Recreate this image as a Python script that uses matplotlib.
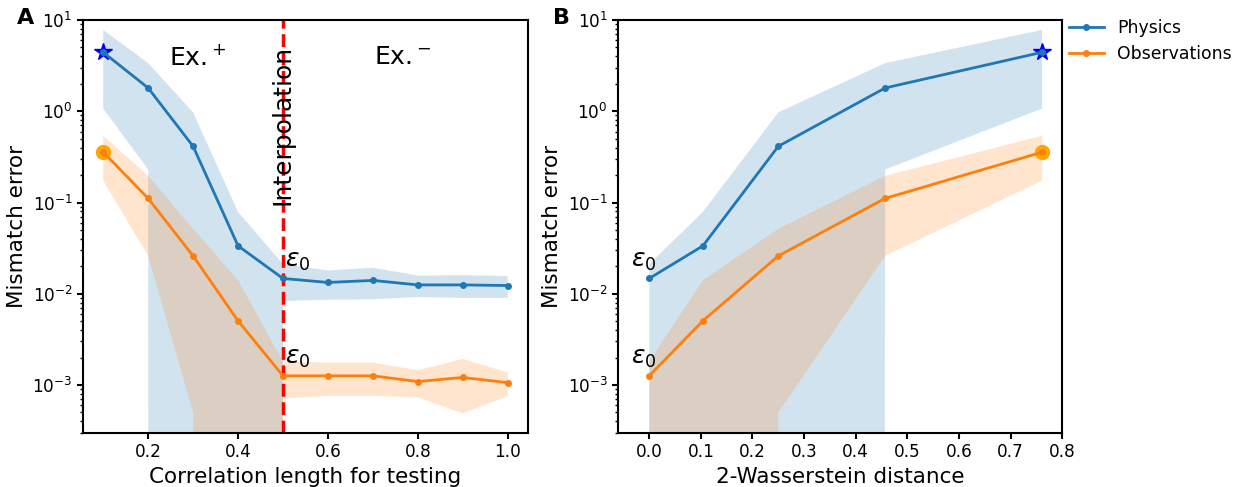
import numpy as np
import matplotlib
matplotlib.use('Agg')
import matplotlib.pyplot as plt

# correlation lengths used for testing (training length is 0.5)
corr_len = np.array([0.1, 0.2, 0.3, 0.4, 0.5, 0.6, 0.7, 0.8, 0.9, 1.0])

# mismatch error, mean and std over test samples
phys_mean = np.array([4.43, 1.80, 0.413, 0.0335, 0.0147, 0.0133, 0.0140, 0.0125, 0.0125, 0.0123])
phys_std = np.array([3.36, 1.57, 0.56, 0.0455, 0.0064, 0.0047, 0.0053, 0.0033, 0.0035, 0.0033])
obs_mean = np.array([0.356, 0.111, 0.026, 0.00505, 0.00126, 0.00126, 0.00126, 0.00109, 0.00121, 0.00106])
obs_std = np.array([0.182, 0.085, 0.0255, 0.009, 0.00055, 0.0005, 0.0005, 0.00036, 0.00072, 0.00031])

# 2-Wasserstein distance to the training set for lengths 0.5, 0.4, 0.3, 0.2, 0.1
w2_dist = np.array([0.0, 0.104, 0.25, 0.457, 0.761])
w2_idx = [4, 3, 2, 1, 0]

plt.rcParams['axes.linewidth'] = 1.5
plt.rcParams['xtick.major.width'] = 1.5
plt.rcParams['ytick.major.width'] = 1.5
plt.rcParams['xtick.major.size'] = 4
plt.rcParams['ytick.major.size'] = 4
plt.rcParams['ytick.minor.width'] = 1.0
plt.rcParams['ytick.minor.size'] = 2.5

fig = plt.figure(figsize=(12.46, 4.87), dpi=100)
axA = fig.add_axes([0.0666, 0.1115, 0.3571, 0.8474])
axB = fig.add_axes([0.4962, 0.1115, 0.3563, 0.8474])


def draw_curves(ax, x, pm, ps, om, os_):
    ax.fill_between(x, pm - ps, pm + ps, color='C0', alpha=0.2, lw=0)
    ax.fill_between(x, om - os_, om + os_, color='C1', alpha=0.2, lw=0)
    ax.plot(x, pm, '-o', color='C0', lw=2, ms=4, label='Physics', zorder=3)
    ax.plot(x, om, '-o', color='C1', lw=2, ms=4, label='Observations', zorder=3)
    ax.set_yscale('log')
    ax.set_ylim(3e-4, 10)
    ax.set_ylabel('Mismatch error', fontsize=15.5)
    ax.tick_params(labelsize=12.2)


# A: error against correlation length
draw_curves(axA, corr_len, phys_mean, phys_std, obs_mean, obs_std)
axA.plot(corr_len[0], phys_mean[0], '*', color='blue', ms=13, zorder=2.5)
axA.plot(corr_len[0], obs_mean[0], 'o', color='orange', ms=10, zorder=2.5)
axA.axvline(0.5, color='red', ls='--', lw=2.5)
axA.text(0.5, 0.7, 'Interpolation', rotation=90, ha='center', va='center', fontsize=18)
axA.text(0.31, 3.9, 'Ex.$^+$', ha='center', va='center', fontsize=18)
axA.text(0.765, 3.9, 'Ex.$^-$', ha='center', va='center', fontsize=18)
axA.text(0.505, phys_mean[4] * 1.15, r'$\varepsilon_0$', ha='left', va='bottom', fontsize=18)
axA.text(0.505, obs_mean[4] * 1.15, r'$\varepsilon_0$', ha='left', va='bottom', fontsize=18)
axA.set_xlim(0.055, 1.045)
axA.set_xticks([0.2, 0.4, 0.6, 0.8, 1.0])
axA.set_xlabel('Correlation length for testing', fontsize=15.5)

# B: same errors against distance between distributions
draw_curves(axB, w2_dist, phys_mean[w2_idx], phys_std[w2_idx], obs_mean[w2_idx], obs_std[w2_idx])
axB.plot(w2_dist[-1], phys_mean[0], '*', color='blue', ms=13, zorder=2.5)
axB.plot(w2_dist[-1], obs_mean[0], 'o', color='orange', ms=10, zorder=2.5)
axB.text(-0.01, phys_mean[4] * 1.15, r'$\varepsilon_0$', ha='center', va='bottom', fontsize=18)
axB.text(-0.01, obs_mean[4] * 1.15, r'$\varepsilon_0$', ha='center', va='bottom', fontsize=18)
axB.set_xlim(-0.06, 0.8)
axB.set_xticks(np.arange(0, 0.81, 0.1))
axB.set_xlabel('2-Wasserstein distance', fontsize=15.5)
axB.legend(loc='upper left', bbox_to_anchor=(1.0, 1.02), borderaxespad=0, frameon=False, fontsize=12.4)

fig.text(17 / 1246, 1 - 24 / 487, 'A', fontsize=16, fontweight='bold', va='baseline')
fig.text(553 / 1246, 1 - 24 / 487, 'B', fontsize=16, fontweight='bold', va='baseline')

fig.savefig('out.png', dpi=100)
